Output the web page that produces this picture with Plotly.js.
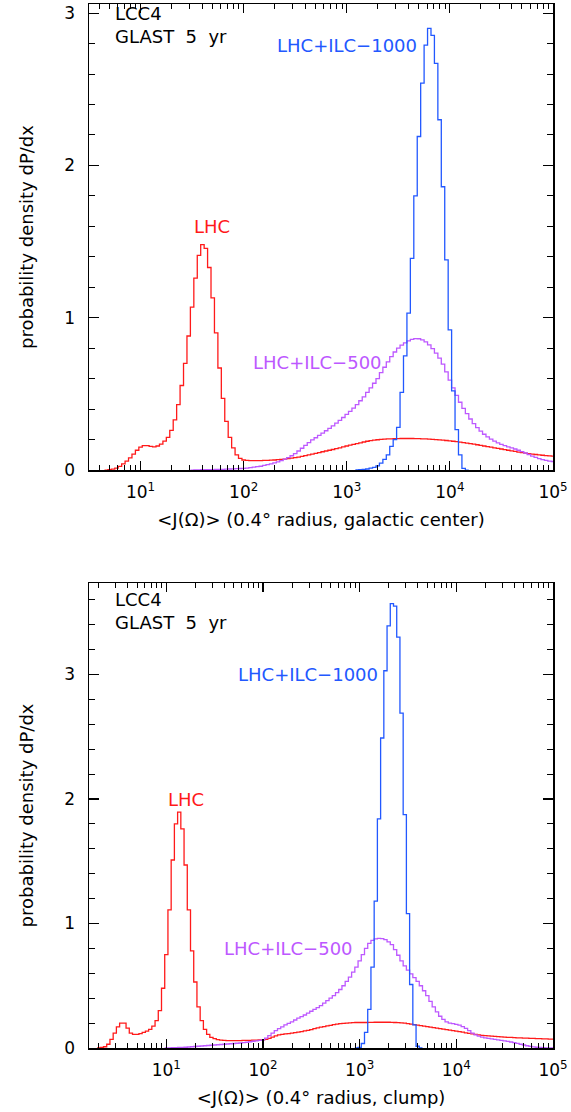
<!DOCTYPE html>
<html><head><meta charset="utf-8">
<script src="https://cdn.plot.ly/plotly-3.0.1.min.js"></script>
<style>body{margin:0;background:#fff}#chart{width:571px;height:1112px}</style>
</head><body><div id="chart"></div>
<script>
// histogram bins: 30 per decade, bin k centred at log10(x) = k/30
const BINS_PER_DECADE = 30;

// ---- top panel: galactic center ----
const topLhcStart = 20;
const topLhc = [0.000,0.003,0.006,0.012,0.024,0.040,0.058,0.080,0.105,0.130,
 0.150,0.160,0.160,0.155,0.152,0.158,0.170,0.190,0.215,0.260,
 0.330,0.430,0.555,0.700,0.880,1.070,1.260,1.410,1.480,1.455,
 1.330,1.130,0.900,0.670,0.470,0.320,0.215,0.145,0.100,0.077,
 0.066,0.063,0.062,0.062,0.062,0.062,0.063,0.064,0.065,0.066,
 0.068,0.070,0.072,0.075,0.078,0.081,0.085,0.090,0.095,0.100,
 0.105,0.110,0.115,0.120,0.125,0.130,0.135,0.140,0.146,0.152,
 0.158,0.163,0.168,0.174,0.179,0.184,0.189,0.193,0.196,0.199,
 0.201,0.203,0.204,0.205,0.206,0.206,0.207,0.207,0.207,0.207,
 0.206,0.206,0.205,0.204,0.203,0.202,0.200,0.198,0.196,0.194,
 0.192,0.189,0.186,0.183,0.180,0.177,0.174,0.170,0.166,0.162,
 0.158,0.154,0.150,0.146,0.142,0.138,0.134,0.130,0.126,0.122,
 0.118,0.114,0.111,0.108,0.105,0.102,0.099,0.097,0.095,0.093,
 0.091];

const topIlc1000Start = 93;
const topIlc1000 = [0.001,0.002,0.004,0.007,0.012,0.018,0.027,
 0.045,0.070,0.100,0.155,0.200,0.280,0.510,0.750,1.030,1.390,
 1.800,2.190,2.540,2.790,2.900,2.854,2.670,2.300,1.860,1.380,
 0.920,0.520,0.265,0.100,0.011,0.000];

const topIlc500Start = 45;
const topIlc500 = [0.000,0.001,0.001,0.002,0.002,0.003,0.003,0.004,0.005,0.005,0.006,0.007,0.008,0.009,0.010,
 0.011,0.013,0.016,0.019,0.022,0.025,0.030,0.035,0.040,0.047,
 0.054,0.062,0.072,0.082,0.094,0.108,0.125,0.143,0.162,0.180,
 0.198,0.212,0.228,0.243,0.258,0.273,0.290,0.308,0.326,0.345,
 0.365,0.385,0.407,0.430,0.455,0.480,0.510,0.540,0.570,0.600,
 0.640,0.675,0.710,0.745,0.775,0.800,0.820,0.835,0.848,0.858,
 0.863,0.862,0.855,0.842,0.822,0.797,0.768,0.735,0.695,0.645,
 0.590,0.540,0.490,0.445,0.405,0.370,0.335,0.305,0.278,0.255,
 0.235,0.218,0.203,0.190,0.178,0.168,0.160,0.152,0.145,0.138,
 0.130,0.121,0.112,0.102,0.092,0.083,0.075,0.068,0.063,0.059,0.056];

// ---- bottom panel: clump ----
const botLhcStart = 9;
const botLhc = [0.000,0.005,0.010,0.030,0.070,0.120,0.170,0.200,0.200,0.160,0.120,
 0.110,0.110,0.115,0.125,0.135,0.150,0.175,0.220,0.300,0.480,
 0.750,1.110,1.510,1.800,1.894,1.760,1.470,1.110,0.780,0.530,
 0.330,0.220,0.150,0.110,0.085,0.075,0.068,0.064,0.062,0.060,
 0.060,0.060,0.060,0.060,0.061,0.061,0.062,0.063,0.064,0.065,
 0.066,0.070,0.078,0.088,0.097,0.105,0.110,0.113,0.116,0.120,
 0.124,0.128,0.132,0.137,0.142,0.148,0.155,0.161,0.167,0.172,
 0.177,0.182,0.187,0.191,0.195,0.198,0.200,0.202,0.204,0.205,
 0.205,0.205,0.205,0.206,0.206,0.207,0.207,0.207,0.207,0.207,
 0.206,0.205,0.203,0.201,0.199,0.196,0.192,0.188,0.184,0.180,
 0.176,0.172,0.168,0.164,0.160,0.156,0.152,0.148,0.144,0.140,
 0.136,0.132,0.127,0.122,0.117,0.113,0.109,0.105,0.102,0.099,
 0.097,0.095,0.093,0.091,0.089,0.088,0.086,0.085,0.083,0.082,
 0.081,0.080,0.079,0.078,0.077,0.076,0.075,0.074,0.073,0.072,0.071];

const botIlc1000Start = 89;
const botIlc1000 = [0.000,0.005,0.036,0.125,0.310,0.650,1.180,1.840,2.490,3.030,
 3.390,3.570,3.550,3.300,2.690,1.875,1.080,0.510,0.186,0.014,0.000];

const botIlc500Start = 30;
const botIlc500 = [0.000,0.001,0.002,0.003,0.004,0.005,0.006,0.008,0.010,0.012,
 0.014,0.016,0.018,0.020,0.022,0.024,0.026,0.028,0.030,0.032,
 0.034,0.036,0.038,0.040,0.043,0.046,0.050,0.054,0.058,0.062,
 0.066,0.080,0.100,0.120,0.140,0.155,0.170,0.185,0.198,0.210,
 0.225,0.240,0.252,0.265,0.280,0.295,0.310,0.325,0.340,0.360,
 0.380,0.400,0.420,0.445,0.470,0.500,0.535,0.570,0.610,0.650,
 0.700,0.750,0.800,0.840,0.865,0.877,0.880,0.878,0.870,0.853,
 0.830,0.790,0.745,0.700,0.660,0.625,0.595,0.565,0.535,0.500,
 0.460,0.420,0.375,0.330,0.290,0.255,0.230,0.210,0.200,0.195,
 0.190,0.183,0.172,0.158,0.140,0.120,0.105,0.095,0.088,0.082,
 0.078,0.074,0.070,0.066,0.062,0.058,0.053,0.048,0.043,0.037,
 0.030,0.024,0.018,0.013,0.009,0.006,0.004,0.002,0.001,0.000,0.000];

const xTickVals = [10, 100, 1000, 10000, 100000];
const xTickText = ['10<sup>1</sup>','10<sup>2</sup>','10<sup>3</sup>','10<sup>4</sup>','10<sup>5</sup>'];
const yTickVals = [0, 1, 2, 3];

const RED = '#ff1a1a', BLUE = '#2258ff', PURPLE = '#bd58ff';
const FONT = 'DejaVu Sans, sans-serif';

function histTrace(start, vals, color, xa, ya, name) {
  const x = [], y = [];
  for (let i = 0; i < vals.length; i++) {
    x.push(Math.pow(10, (start + i - 0.5) / BINS_PER_DECADE));
    y.push(vals[i]);
  }
  x.push(Math.pow(10, (start + vals.length - 0.5) / BINS_PER_DECADE));
  y.push(vals[vals.length - 1]);
  return {type:'scatter', mode:'lines', x:x, y:y, xaxis:xa, yaxis:ya, name:name,
          line:{color:color, width:1.3, shape:'hv'}, hoverinfo:'skip', showlegend:false};
}

const traces = [
  histTrace(topLhcStart, topLhc, RED, 'x', 'y', 'LHC'),
  histTrace(topIlc500Start, topIlc500, PURPLE, 'x', 'y', 'LHC+ILC−500'),
  histTrace(topIlc1000Start, topIlc1000, BLUE, 'x', 'y', 'LHC+ILC−1000'),
  histTrace(botLhcStart, botLhc, RED, 'x2', 'y2', 'LHC'),
  histTrace(botIlc500Start, botIlc500, PURPLE, 'x2', 'y2', 'LHC+ILC−500'),
  histTrace(botIlc1000Start, botIlc1000, BLUE, 'x2', 'y2', 'LHC+ILC−1000')
];

function xAxis(range, title, anchor) {
  return {type:'log', range:range, anchor:anchor,
    tickvals:xTickVals, ticktext:xTickText,
    ticks:'inside', ticklen:9, tickwidth:1.2, tickcolor:'#000',
    minor:{ticks:'inside', ticklen:5, tickwidth:1, tickcolor:'#000', dtick:'D1', showgrid:false},
    showline:true, linecolor:'#000', linewidth:1.5, mirror:'allticks',
    showgrid:false, zeroline:false, ticklabelstandoff:6,
    tickfont:{family:FONT, size:17, color:'#000'},
    title:{text:title, font:{family:FONT, size:18, color:'#000'}, standoff:12}};
}
function yAxis(range, domain, anchor) {
  return {range:range, domain:domain, anchor:anchor,
    tickvals:yTickVals, ticks:'inside', ticklen:10, tickwidth:1.2, tickcolor:'#000',
    minor:{ticks:'inside', ticklen:6, tickwidth:1, tickcolor:'#000', dtick:0.2, showgrid:false},
    showline:true, linecolor:'#000', linewidth:1.5, mirror:'allticks',
    showgrid:false, zeroline:false, ticklabelstandoff:9,
    tickfont:{family:FONT, size:17, color:'#000'},
    title:{text:'probability density dP/dx', font:{family:FONT, size:18, color:'#000'}, standoff:26}};
}

function label(text, x, y, color, xa, ya, align) {
  return {text:text, x:x, y:y, xref:xa, yref:ya, showarrow:false,
    xanchor:align || 'center', yanchor:'middle', align:'left',
    font:{family:FONT, size:18, color:color}};
}

const layout = {
  width:571, height:1112,
  margin:{l:89, r:18, t:4, b:64},
  paper_bgcolor:'#fff', plot_bgcolor:'#fff',
  showlegend:false,
  xaxis: xAxis([0.5, 5], '&lt;J(Ω)&gt; (0.4° radius, galactic center)', 'y'),
  yaxis: yAxis([0, 3.06], [0.5536, 1], 'x'),
  xaxis2: xAxis([0.2, 5], '&lt;J(Ω)&gt; (0.4° radius, clump)', 'y2'),
  yaxis2: yAxis([0, 3.735], [0, 0.4454], 'x2'),
  annotations: [
    label('LCC4<br>GLAST  5  yr', 0.052, 0.956, '#000', 'x domain', 'y domain', 'left'),
    label('LHC', 1.69, 1.6, RED, 'x', 'y'),
    label('LHC+ILC−1000', 3.0, 2.79, BLUE, 'x', 'y'),
    label('LHC+ILC−500', 2.72, 0.707, PURPLE, 'x', 'y'),
    label('LCC4<br>GLAST  5  yr', 0.052, 0.94, '#000', 'x2 domain', 'y2 domain', 'left'),
    label('LHC', 1.2, 2.0, RED, 'x2', 'y2'),
    label('LHC+ILC−1000', 2.47, 3.0, BLUE, 'x2', 'y2'),
    label('LHC+ILC−500', 2.265, 0.8, PURPLE, 'x2', 'y2')
  ]
};

Plotly.newPlot('chart', traces, layout, {displayModeBar:false, staticPlot:true});
</script></body></html>
